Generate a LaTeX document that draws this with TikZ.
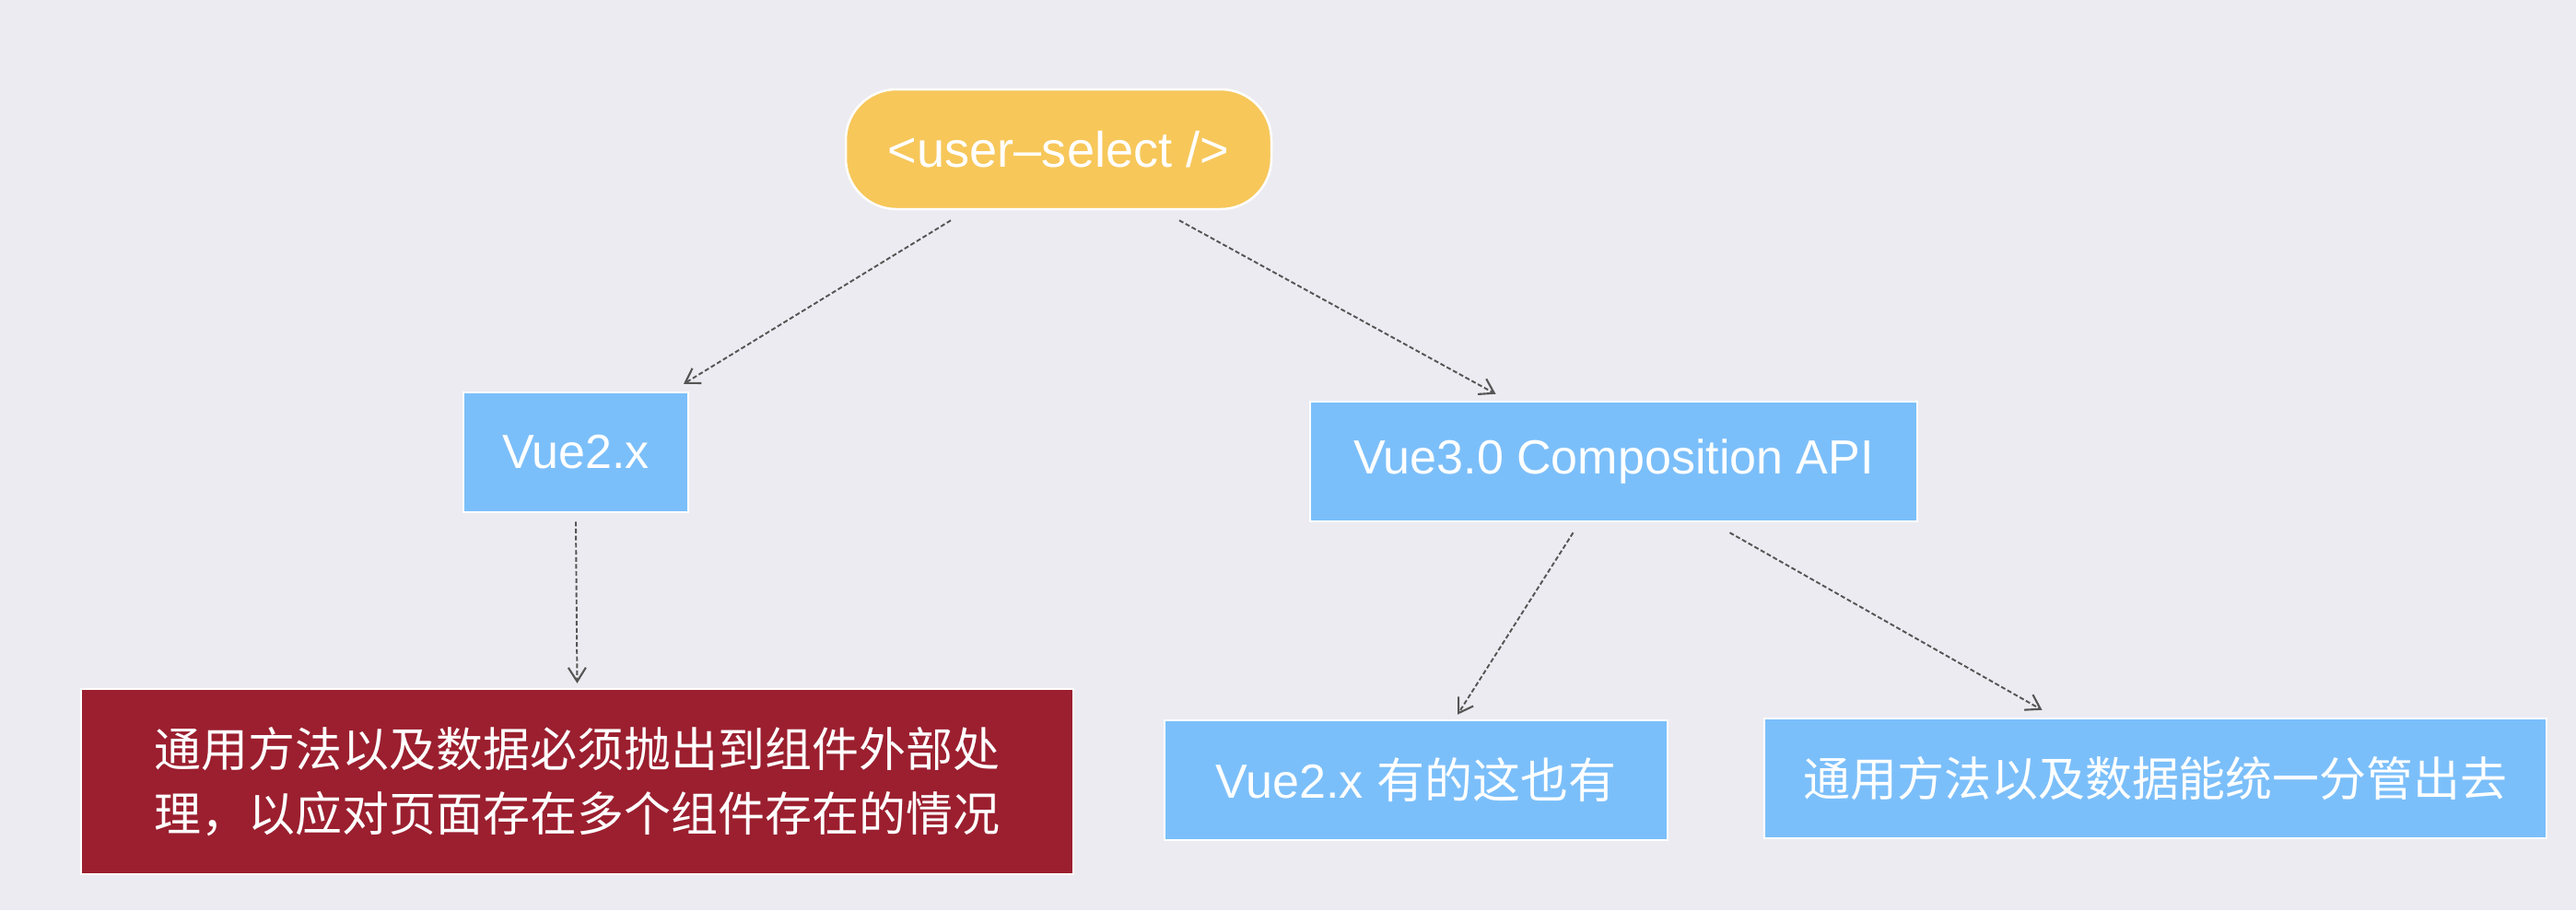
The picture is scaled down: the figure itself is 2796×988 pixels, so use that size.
\documentclass[tikz,border=0pt]{standalone}
\usepackage{fontspec}
\setmainfont{Liberation Sans}
\newfontfamily\cjk{Noto Sans CJK SC}
\usetikzlibrary{arrows.meta,calc}
\definecolor{bgc}{HTML}{ECEBF1}
\definecolor{pillc}{HTML}{F7C75A}
\definecolor{bluec}{HTML}{7BBFFA}
\definecolor{redc}{HTML}{9B1F2F}
\definecolor{arrc}{HTML}{555555}
\tikzset{
  box/.style={draw=white, line width=0.25mm, inner sep=0pt, text=white, align=center},
  pillbox/.style={box, fill=pillc, rounded corners=5.5mm, font=\fontsize{15.4pt}{18pt}\selectfont},
  bluebox/.style={box, fill=bluec, font=\fontsize{14.8pt}{18pt}\selectfont},
  redbox/.style={box, fill=redc, font=\cjk\fontsize{14.5pt}{19.9pt}\selectfont},
  conn/.style={draw=arrc, line width=0.55pt, dash pattern=on 0.5mm off 0.27mm,
    -{Straight Barb[length=1.5mm,width=1.9mm,line width=0.6pt]}},
}
\begin{document}
\begin{tikzpicture}[x=0.1mm, y=-0.1mm]
\fill[bgc] (0,0) rectangle (2796,988);
\useasboundingbox (0,0) rectangle (2796,988);

\node[pillbox, minimum width=46.2mm, minimum height=13mm] (pill) at (1149,162) {<user–select />};
\node[bluebox, minimum width=24.4mm, minimum height=13mm] (v2) at (625,491) {Vue2.x};
\node[bluebox, minimum width=65.9mm, minimum height=13mm] (comp) at (1751.5,501) {Vue3.0 Composition API};
\node[redbox, minimum width=107.7mm, minimum height=20.1mm] (red) at (626.5,848.5)
  {通用方法以及数据必须抛出到组件外部处\\理，以应对页面存在多个组件存在的情况};
\node[bluebox, minimum width=54.6mm, minimum height=13mm] (mid) at (1537,847) {Vue2.x {\cjk 有的这也有}};
\node[bluebox, minimum width=84.9mm, minimum height=13mm, font=\cjk\fontsize{14.5pt}{18pt}\selectfont] (right) at (2339.5,845) {通用方法以及数据能统一分管出去};

\draw[conn] ($(pill.south)+(-117,11)$) -- ($(v2.north)+(117,-8)$);
\draw[conn] ($(pill.south)+(131,11)$) -- ($(comp.north)+(-128,-7)$);
\draw[conn] ($(v2.south)+(0,9)$) -- ($(red.north)+(0,-5)$);
\draw[conn] ($(comp.south)+(-44,11)$) -- ($(mid.north)+(45,-5)$);
\draw[conn] ($(comp.south)+(126,11)$) -- ($(right.north)+(-123,-8)$);
\end{tikzpicture}
\end{document}
